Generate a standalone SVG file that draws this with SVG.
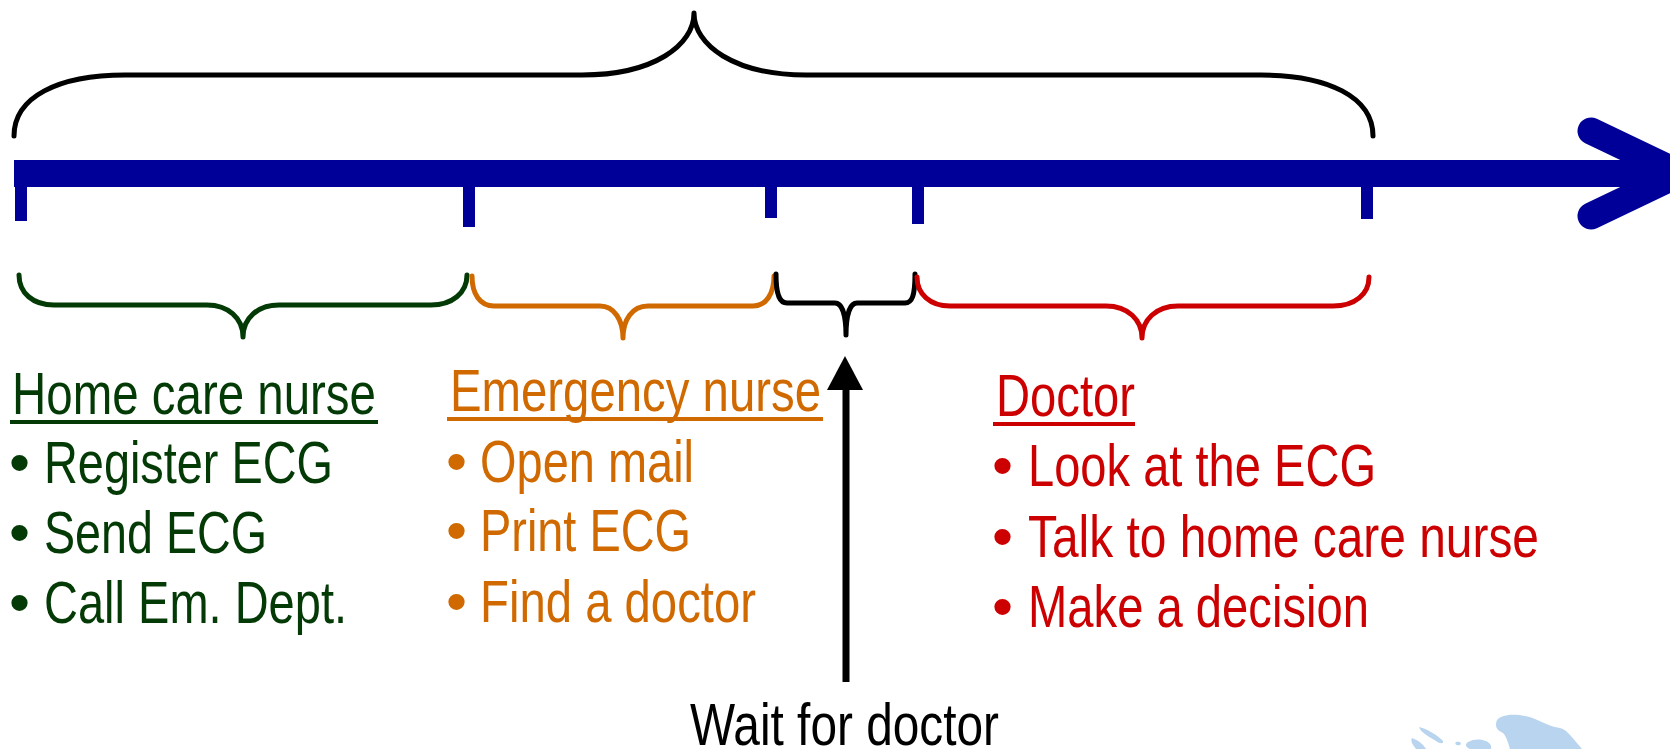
<svg xmlns="http://www.w3.org/2000/svg" width="1670" height="749" viewBox="0 0 1670 749">
<style>
.t{font-family:"Liberation Sans Narrow","Liberation Sans",Arial,sans-serif;font-size:60px}
.g{fill:#033a06}.o{fill:#d06a00}.r{fill:#cc0000}.k{fill:#000}
.brace{fill:none;stroke-width:5;stroke-linecap:round;stroke-linejoin:round}
.tick{stroke:#000099;stroke-width:12}
</style>
<rect width="1670" height="749" fill="#fff"/>
<g id="map" fill="#b8d4ee">
<path d="M1497,720 C1502,714 1515,714 1525,716 C1538,718 1545,726 1560,728 C1568,730 1574,740 1582,749 L1510,749 C1508,742 1506,736 1503,733 C1498,731 1494,727 1497,720 Z"/>
<path d="M1468,742 C1475,738 1486,739 1490,744 C1492,747 1491,749 1490,749 L1470,749 C1465,747 1465,744 1468,742 Z"/>
<path d="M1419,727 C1425,728 1438,735 1443,741 C1444,744 1440,744 1436,741 C1430,737 1421,733 1419,727 Z"/>
<path d="M1412,738 C1418,740 1424,745 1426,749 L1416,749 C1413,745 1410,741 1412,738 Z"/>
<path d="M1456,742 C1460,741 1462,743 1460,745 C1457,746 1454,744 1456,742 Z"/>
</g>
<g id="connectors">
<g id="timeline">
<line x1="14" y1="173.5" x2="1660" y2="173.5" stroke="#000099" stroke-width="27"/>
<polyline points="1591,131 1680,173.5 1591,216" fill="none" stroke="#000099" stroke-width="27" stroke-linecap="round" stroke-linejoin="miter"/>
<line class="tick" x1="21" y1="186" x2="21" y2="221"/>
<line class="tick" x1="469" y1="186" x2="469" y2="227"/>
<line class="tick" x1="771" y1="186" x2="771" y2="218"/>
<line class="tick" x1="918" y1="186" x2="918" y2="224"/>
<line class="tick" x1="1367" y1="186" x2="1367" y2="219"/>
</g>
<path id="top-brace" class="brace" stroke="#000" d="M14,136 C14,97 58,75 125,75 L582,75 C654,75 694,45 694,13 C694,45 734,75 806,75 L1261,75 C1328,75 1373,97 1373,136"/>
<path id="brace-home" class="brace" stroke="#033a06" d="M19,275 C19,293 33,305 54,305 L207,305 C228,305 243,318 243,337 C243,318 258,305 279,305 L431,305 C452,305 467,293 467,275"/>
<path id="brace-emergency" class="brace" stroke="#d06a00" d="M472,276 C472,294 480,306 494,306 L600,306 C614,306 623,320 623,338 C623,320 632,306 648,306 L753,306 C766,306 774,294 774,276"/>
<path id="brace-wait" class="brace" stroke="#000" d="M776,274 C776,296 780,303 787,303 L835,303 C842,303 846,315 846,335 C846,315 850,303 857,303 L905,303 C912,303 915,296 915,274"/>
<path id="brace-doctor" class="brace" stroke="#cc0000" d="M917,277 C917,294 930,306 950,306 L1106,306 C1128,306 1142,320 1142,338 C1142,320 1156,306 1178,306 L1333,306 C1355,306 1369,294 1369,277"/>
<g id="wait-arrow">
<line x1="846" y1="388" x2="846" y2="682" stroke="#000" stroke-width="7"/>
<polygon points="845,356 827,390 863,390" fill="#000"/>
</g>
</g>
<g id="home-care-nurse" class="t g">
<text x="12" y="414" textLength="364" lengthAdjust="spacingAndGlyphs">Home care nurse</text>
<rect x="10" y="420" width="368" height="4"/>
<text x="9" y="483">•</text><text x="44" y="483" textLength="289" lengthAdjust="spacingAndGlyphs">Register ECG</text>
<text x="9" y="553">•</text><text x="44" y="553" textLength="223" lengthAdjust="spacingAndGlyphs">Send ECG</text>
<text x="9" y="623">•</text><text x="44" y="623" textLength="303" lengthAdjust="spacingAndGlyphs">Call Em. Dept.</text>
</g>
<g id="emergency-nurse" class="t o">
<text x="450" y="411" textLength="371" lengthAdjust="spacingAndGlyphs">Emergency nurse</text>
<rect x="447" y="417" width="376" height="4"/>
<text x="446" y="482">•</text><text x="480" y="482" textLength="214" lengthAdjust="spacingAndGlyphs">Open mail</text>
<text x="446" y="551">•</text><text x="480" y="551" textLength="211" lengthAdjust="spacingAndGlyphs">Print ECG</text>
<text x="446" y="622">•</text><text x="480" y="622" textLength="276" lengthAdjust="spacingAndGlyphs">Find a doctor</text>
</g>
<g id="doctor" class="t r">
<text x="996" y="416" textLength="139" lengthAdjust="spacingAndGlyphs">Doctor</text>
<rect x="993" y="422" width="142" height="4"/>
<text x="992" y="486">•</text><text x="1028" y="486" textLength="348" lengthAdjust="spacingAndGlyphs">Look at the ECG</text>
<text x="992" y="557">•</text><text x="1028" y="557" textLength="511" lengthAdjust="spacingAndGlyphs">Talk to home care nurse</text>
<text x="992" y="627">•</text><text x="1028" y="627" textLength="341" lengthAdjust="spacingAndGlyphs">Make a decision</text>
</g>
<g id="wait-for-doctor" class="t k">
<text x="690" y="745" textLength="309" lengthAdjust="spacingAndGlyphs">Wait for doctor</text>
</g>
</svg>
